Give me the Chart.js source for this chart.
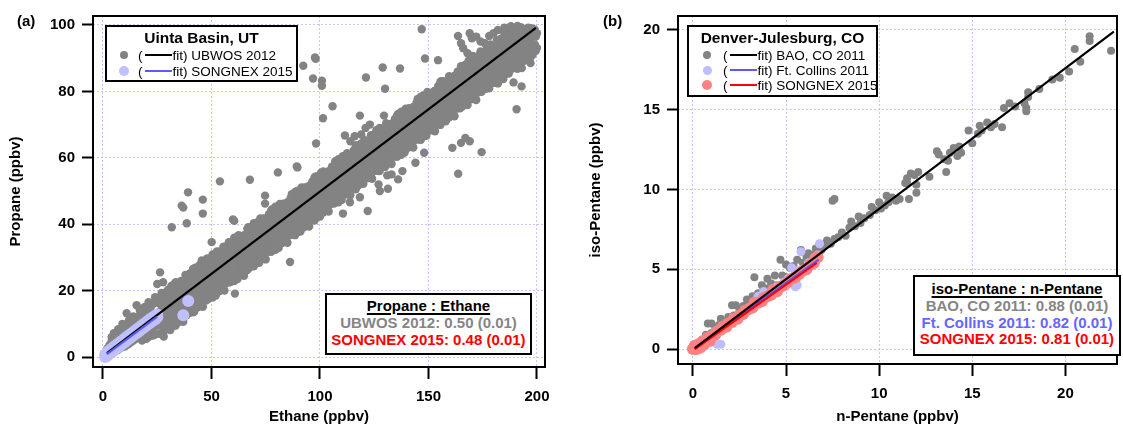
<!DOCTYPE html>
<html>
<head>
<meta charset="utf-8">
<script src="https://cdn.jsdelivr.net/npm/chart.js@4.4.0/dist/chart.umd.min.js"></script>
<style>
  body { margin: 0; background: #fff; font-family: "Liberation Sans", Arial, sans-serif; }
  #wrap { position: relative; width: 1123px; height: 424px; overflow: hidden; }
  canvas { position: absolute; top: 0; }
  .plabel { position: absolute; font-weight: bold; font-size: 15px; line-height: 18px; }
  .box { position: absolute; border: 2px solid #000; background: #fff; box-sizing: border-box; }
  .ttl { position: absolute; text-align: center; font-weight: bold; font-size: 15.5px; line-height: 18px; }
  .row { position: absolute; height: 16px; display: flex; align-items: center; font-size: 13.5px; white-space: nowrap; }
  .dotc { width: 12px; display: flex; justify-content: center; }
  .dot { border-radius: 50%; display: inline-block; }
  .ln { display: inline-block; width: 27px; height: 2px; margin: 0 1px 0 2px; }
  .stats { text-align: center; font-weight: bold; font-size: 15px; line-height: 16.8px; }
  .stats u { text-decoration-thickness: 1.5px; text-underline-offset: 2px; }
</style>
</head>
<body>
<div id="wrap">
  <canvas id="chartA" width="560" height="424" style="left:0"></canvas>
  <canvas id="chartB" width="563" height="424" style="left:560px"></canvas>

  <div class="plabel" style="left:17px;top:12px">(a)</div>
  <div class="plabel" style="left:603px;top:12px">(b)</div>

  <!-- legend (a) -->
  <div class="box" style="left:105px;top:25px;width:193px;height:57px"></div>
  <div class="ttl" style="left:105px;width:193px;top:29px">Uinta Basin, UT</div>
  <div class="row" style="left:118px;top:47px"><span class="dotc"><span class="dot" style="width:8px;height:8px;background:#838383"></span></span><span style="margin-left:8px">(</span><span class="ln" style="background:#000"></span>fit) UBWOS 2012</div>
  <div class="row" style="left:118px;top:63px"><span class="dotc"><span class="dot" style="width:10px;height:10px;background:#c0c0ff"></span></span><span style="margin-left:8px">(</span><span class="ln" style="background:#5a5aff"></span>fit) SONGNEX 2015</div>

  <!-- stats (a) -->
  <div class="box stats" style="left:325px;top:293px;width:207px;height:62px;padding-top:3px">
    <u>Propane : Ethane</u><br>
    <span style="color:#858585">UBWOS 2012: 0.50 (0.01)</span><br>
    <span style="color:#ff0000">SONGNEX 2015: 0.48 (0.01)</span>
  </div>

  <!-- legend (b) -->
  <div class="box" style="left:687px;top:25px;width:191px;height:72px"></div>
  <div class="ttl" style="left:687px;width:191px;top:29px">Denver-Julesburg, CO</div>
  <div class="row" style="left:701px;top:47px"><span class="dotc"><span class="dot" style="width:8px;height:8px;background:#838383"></span></span><span style="margin-left:10px">(</span><span class="ln" style="background:#000"></span>fit) BAO, CO 2011</div>
  <div class="row" style="left:701px;top:62px"><span class="dotc"><span class="dot" style="width:9px;height:9px;background:#bdbdff"></span></span><span style="margin-left:10px">(</span><span class="ln" style="background:#5a5aff"></span>fit) Ft. Collins 2011</div>
  <div class="row" style="left:701px;top:77px"><span class="dotc"><span class="dot" style="width:10px;height:10px;background:#ff8282"></span></span><span style="margin-left:10px">(</span><span class="ln" style="background:#ff0000"></span>fit) SONGNEX 2015</div>

  <!-- stats (b) -->
  <div class="box stats" style="left:913px;top:275px;width:208px;height:81px;padding-top:4px">
    <u>iso-Pentane : n-Pentane</u><br>
    <span style="color:#858585">BAO, CO 2011: 0.88 (0.01)</span><br>
    <span style="color:#6666ff">Ft. Collins 2011: 0.82 (0.01)</span><br>
    <span style="color:#ff0000">SONGNEX 2015: 0.81 (0.01)</span>
  </div>
</div>

<script>
  // ---- panel (a): Propane vs Ethane, Uinta Basin ----
  // rows: [ethane, propane, propane, ...]
  const ubwosRows = [
    [1, 0.2, 1.0], [2, 0.6, 1.8, 2.6], [3, 0.8, 2.2, 3.6], [4, 1.2, 2.5, 4.8, 6.0],
    [5, 1.6, 3.0, 5.2, 7.2], [6, 2.0, 3.6, 5.8], [7, 2.2, 4.0, 6.8, 8.4], [8, 2.8, 4.5, 7.0],
    [9, 3.0, 5.0, 8.2, 10.0], [10, 3.2, 5.5, 7.5, 9.0], [11, 3.6, 6.0, 8.8], [12, 4.0, 6.2, 9.5, 11.0],
    [13, 4.5, 7.0, 10.0], [14, 5.0, 7.4, 10.8, 12.2], [15, 5.4, 8.0, 11.2], [16, 6.0, 8.5, 11.8],
    [17, 6.2, 9.0, 12.5, 14.0], [18, 5.0, 6.8, 9.6, 13.0], [19, 7.0, 10.0, 13.6, 15.0], [20, 5.5, 7.5, 10.5, 14.0],
    [21, 6.0, 8.0, 11.0, 14.5, 16.5], [22, 6.5, 8.5, 11.8, 15.0], [23, 6.5, 9.0, 12.0, 16.0], [24, 6.8, 9.2, 12.6, 16.5, 18.0],
    [25, 9.8, 13.2, 17.0], [26, 7.0, 11.4, 16.1], [27, 11.3, 15.8, 19.3], [28, 6.2, 10.4, 14.3, 18.4],
    [29, 10.6, 15.3, 19.5], [30, 8.4, 12.6, 17.1, 20.3], [31, 8.1, 12.6, 16.8], [32, 14.8, 19.4],
    [33, 11.3, 15.9, 20.2], [34, 13.9, 18.1, 21.1], [35, 12.9, 17.4], [36, 14.0, 18.7, 22.9],
    [37, 10.6, 14.8, 18.7, 22.8], [38, 16.7, 21.2, 24.7], [39, 13.4, 17.8, 22.5], [40, 13.3, 17.5, 22.0, 25.2],
    [41, 15.3, 19.9, 24.2], [42, 13.6, 18.1, 22.3], [43, 18.4, 22.6, 25.6], [44, 20.8, 25.4],
    [45, 18.5, 23.2, 27.4], [46, 15.1, 19.3, 23.2, 27.3], [47, 18.9, 23.4], [48, 21.7, 26.2, 29.7],
    [49, 18.4, 22.8, 27.5], [50, 19.8, 24.4, 28.7], [51, 18.7, 22.9, 27.4, 30.6], [52, 18.5, 23.0, 27.2],
    [53, 23.3, 27.5, 30.5], [54, 22.9, 27.6, 31.8], [55, 26.2, 30.8], [56, 20.0, 24.2, 28.1, 32.2],
    [57, 22.3, 26.7, 31.4], [58, 26.6, 31.1, 34.6], [59, 24.8, 29.3], [60, 24.7, 29.3, 33.6],
    [61, 23.7, 27.9, 32.4, 35.6], [62, 23.5, 28.0, 32.2], [63, 27.4, 32.1, 36.3], [64, 28.8, 33.0, 36.0],
    [65, 24.5, 28.7, 32.6, 36.7], [66, 31.7, 36.3], [67, 31.1, 35.6, 39.1], [68, 27.8, 32.2, 36.9],
    [69, 29.2, 33.8, 38.1], [70, 30.3, 34.8], [71, 28.6, 32.8, 37.3, 40.5], [72, 28.4, 32.9, 37.1],
    [73, 33.2, 37.4, 40.4], [74, 32.8, 37.5, 41.7], [75, 29.4, 33.6, 37.5, 41.6], [76, 31.7, 36.1, 40.8],
    [77, 37.1, 41.7], [78, 36.5, 41.0, 44.5], [79, 34.1, 38.7, 43.0], [80, 33.1, 37.3, 41.8, 45.0],
    [81, 32.9, 37.4, 41.6], [82, 36.2, 40.7], [83, 37.3, 42.0, 46.2], [84, 38.7, 42.9, 45.9],
    [85, 34.4, 38.6, 42.5, 46.6], [86, 36.7, 41.1, 45.8], [87, 41.0, 45.5, 49.0], [88, 38.6, 43.2, 47.5],
    [89, 43.1, 47.7], [90, 38.1, 42.3, 46.8, 50.0], [91, 37.8, 42.3, 46.5], [92, 42.6, 46.8, 49.8],
    [93, 42.2, 46.9, 51.1], [94, 42.1, 46.6], [95, 39.3, 43.5, 47.4, 51.5], [96, 41.6, 46.0, 50.7],
    [97, 43.0, 47.6, 51.9], [98, 46.4, 50.9, 54.4], [99, 42.5, 46.7, 51.2, 54.4], [100, 42.3, 46.8, 51.0],
    [101, 49.0, 53.6], [102, 46.7, 51.4, 55.6], [103, 48.1, 52.3, 55.3], [104, 43.8, 48.0, 51.9, 56.0],
    [105, 46.1, 50.5, 55.2], [106, 48.1, 52.6], [107, 50.9, 55.4, 58.9], [108, 48.5, 53.1, 57.4],
    [109, 47.5, 51.7, 56.2, 59.4], [110, 47.3, 51.8, 56.0], [111, 51.1, 55.8, 60.0], [112, 54.4, 59.0],
    [113, 53.0, 57.2, 60.2], [114, 48.7, 52.9, 56.8, 60.9], [115, 51.0, 55.4, 60.1], [116, 52.4, 57.0, 61.3],
    [117, 55.8, 60.3, 63.8], [118, 54.0, 58.5], [119, 52.4, 56.6, 61.1, 64.3], [120, 52.2, 56.7, 60.9],
    [121, 56.1, 60.8, 65.0], [122, 57.5, 61.7, 64.7], [123, 59.9, 64.5], [124, 53.7, 57.9, 61.8, 65.9],
    [125, 56.0, 60.4, 65.1], [126, 60.3, 64.8, 68.3], [127, 57.9, 62.5, 66.8], [128, 56.9, 61.1, 65.6, 68.8],
    [129, 59.5, 64.0], [130, 57.2, 61.7, 65.9], [131, 61.0, 65.7, 69.9], [132, 62.4, 66.6, 69.6],
    [133, 58.1, 62.3, 66.2, 70.3], [134, 60.4, 64.8, 69.5], [135, 65.8, 70.4], [136, 65.2, 69.7, 73.2],
    [137, 62.8, 67.4, 71.7], [138, 61.8, 66.0, 70.5, 73.7], [139, 61.6, 66.1, 70.3], [140, 64.9, 69.4],
    [141, 66.0, 70.7, 74.9], [142, 67.4, 71.6, 74.6], [143, 63.1, 67.3, 71.2, 75.3], [144, 65.4, 69.8, 74.5],
    [145, 69.7, 74.2, 77.7], [146, 67.3, 71.9, 76.2], [147, 71.8, 76.4], [148, 66.8, 71.0, 75.5, 78.7],
    [149, 66.6, 71.1, 75.3], [150, 70.5, 75.2, 79.4], [151, 71.8, 76.0, 79.0], [152, 70.8, 75.3],
    [153, 68.0, 72.2, 76.1, 80.2], [154, 70.3, 74.7, 79.4], [155, 71.7, 76.3, 80.6], [156, 75.1, 79.6, 83.1],
    [157, 71.2, 75.4, 79.9, 83.1], [158, 71.0, 75.5, 79.7], [159, 77.7, 82.3], [160, 75.4, 80.1, 84.3],
    [161, 76.8, 81.0, 84.0], [162, 72.5, 76.7, 80.6, 84.7], [163, 74.8, 79.2, 83.9], [164, 76.8, 81.3],
    [165, 79.6, 84.1, 87.6], [166, 77.2, 81.8, 86.1], [167, 76.1, 80.3, 84.8, 88.0], [168, 75.9, 80.4, 84.6],
    [169, 79.8, 84.5, 88.7], [170, 83.1, 87.7], [171, 81.7, 85.9, 88.9], [172, 77.4, 81.6, 85.5, 89.6],
    [173, 79.7, 84.1, 88.8], [174, 84.0, 88.5, 92.0], [175, 81.6, 86.2, 90.5], [176, 82.7, 87.2],
    [177, 81.1, 85.3, 89.8, 93.0], [178, 80.9, 85.4, 89.6], [179, 84.8, 89.5, 93.7], [180, 86.2, 90.4, 93.4],
    [181, 88.6, 93.2], [182, 82.4, 86.6, 90.5, 94.6], [183, 84.7, 89.1, 93.8], [184, 86.1, 90.7, 95.0],
    [185, 89.5, 94.0, 97.5], [186, 85.6, 89.8, 94.3, 97.5], [187, 85.4, 89.9, 94.1], [188, 88.7, 93.2],
    [189, 89.8, 94.5, 98.7], [190, 91.2, 95.4, 98.4], [191, 86.8, 91.0, 94.9, 99.0], [192, 89.1, 93.5, 98.2],
    [193, 94.5, 99.1], [194, 93.9, 98.4], [195, 91.5, 96.1], [196, 90.5, 94.7, 99.2],
    [197, 90.3, 94.8, 99.0], [198, 94.2, 98.9], [199, 94.1, 98.6], [200, 93.1, 97.5]
  ];
  // more of the dense band, read between the columns above
  const ubwosRows2 = [
    [26.5, 9.4, 13.9, 18.2], [27.5, 7.1, 9.3, 13.7], [28.5, 8.5, 12.6, 16.6], [29.5, 8.4, 13.1, 17.6],
    [30.5, 10.7, 15.1, 19.0], [31.5, 10.7, 15.0, 19.4, 21.4], [32.5, 9.4, 11.4, 13.2, 17.4, 21.8], [33.5, 9.5, 13.9, 18.3, 22.5],
    [34.5, 10.4, 12.2, 16.3, 19.9], [35.5, 11.1, 15.4, 19.9, 22.1], [36.5, 11.9, 16.6, 21.1], [37.5, 13.0, 17.1, 21.1],
    [38.5, 12.6, 14.8, 19.2], [39.5, 15.9, 20.4, 24.7], [40.5, 15.7, 20.1, 24.0], [41.5, 13.5, 17.9, 22.3, 26.5],
    [42.5, 16.2, 20.5, 24.9, 26.9], [43.5, 14.9, 16.7, 20.8, 24.4], [44.5, 15.3, 17.3, 19.1, 23.3, 27.7], [45.5, 16.3, 21.0, 25.5],
    [46.5, 17.4, 21.5, 25.5], [47.5, 17.0, 21.3, 25.8, 28.0], [48.5, 17.5, 19.7, 24.1], [49.5, 20.8, 25.3, 29.6],
    [50.5, 17.9, 22.3, 26.7, 30.9], [51.5, 21.1, 25.5, 29.4], [52.5, 21.1, 25.4, 29.8, 31.8], [53.5, 19.8, 21.6, 25.7, 29.3],
    [54.5, 20.8, 25.5, 30.0], [55.5, 20.8, 22.8, 24.6, 28.8, 33.2], [56.5, 22.4, 26.5, 30.5], [57.5, 24.8, 29.3, 33.6],
    [58.5, 22.5, 24.7, 29.1], [59.5, 23.0, 27.3, 31.8, 34.0], [60.5, 22.9, 27.3, 31.7, 35.9], [61.5, 26.0, 30.4, 34.3],
    [62.5, 26.0, 30.3, 34.7, 36.7], [63.5, 25.2, 29.9, 34.4], [64.5, 25.2, 27.0, 31.1, 34.7], [65.5, 26.8, 30.9, 34.9],
    [66.5, 26.2, 28.2, 30.0, 34.2, 38.6], [67.5, 26.9, 29.1, 33.5], [68.5, 30.2, 34.7, 39.0], [69.5, 27.3, 31.7, 36.1, 40.3],
    [70.5, 28.4, 32.7, 37.2, 39.4], [71.5, 31.0, 35.4, 39.3], [72.5, 31.0, 35.3, 39.7, 41.7], [73.5, 29.7, 31.5, 35.6, 39.2],
    [74.5, 30.7, 35.4, 39.9], [75.5, 31.8, 35.9, 39.9], [76.5, 34.2, 38.7, 43.0], [77.5, 31.7, 33.7, 35.5, 39.7, 44.1],
    [78.5, 32.4, 34.6, 39.0], [79.5, 32.3, 36.7, 41.1, 45.3], [80.5, 35.4, 39.8, 43.7], [81.5, 35.4, 39.7, 44.1, 46.1],
    [82.5, 34.3, 38.6, 43.1, 45.3], [83.5, 35.1, 39.8, 44.3], [84.5, 35.1, 36.9, 41.0, 44.6], [85.5, 36.7, 40.8, 44.8],
    [86.5, 39.1, 43.6, 47.9], [87.5, 36.8, 39.0, 43.4], [88.5, 36.7, 41.1, 45.5, 49.7], [89.5, 37.6, 39.6, 41.4, 45.6, 50.0],
    [90.5, 40.4, 44.8, 48.7], [91.5, 40.4, 44.7, 49.1, 51.1], [92.5, 39.1, 40.9, 45.0, 48.6], [93.5, 40.1, 44.8, 49.3],
    [94.5, 40.3, 44.6, 49.1, 51.3], [95.5, 41.7, 45.8, 49.8], [96.5, 44.1, 48.6, 52.9], [97.5, 41.1, 45.5, 49.9, 54.1],
    [98.5, 42.2, 44.4, 48.8], [99.5, 44.8, 49.2, 53.1], [100.5, 44.8, 49.1, 53.5, 55.5], [101.5, 43.5, 45.5, 47.3, 51.5, 55.9],
    [102.5, 44.5, 49.2, 53.7], [103.5, 44.5, 46.3, 50.4, 54.0], [104.5, 46.1, 50.2, 54.2], [105.5, 48.5, 53.0, 57.3],
    [106.5, 46.2, 50.5, 55.0, 57.2], [107.5, 46.7, 48.9, 53.3], [108.5, 46.6, 51.0, 55.4, 59.6], [109.5, 49.8, 54.2, 58.1],
    [110.5, 49.8, 54.1, 58.5, 60.5], [111.5, 49.0, 53.7, 58.2], [112.5, 49.0, 51.0, 52.8, 57.0, 61.4], [113.5, 49.5, 51.3, 55.4, 59.0],
    [114.5, 51.0, 55.1, 59.1], [115.5, 53.4, 57.9, 62.2], [116.5, 50.5, 54.9, 59.3, 63.5], [117.5, 51.6, 53.8, 58.2],
    [118.5, 52.1, 56.4, 60.9, 63.1], [119.5, 54.7, 59.1, 63.0], [120.5, 54.7, 59.0, 63.4, 65.4], [121.5, 53.9, 58.6, 63.1],
    [122.5, 53.9, 55.7, 59.8, 63.4], [123.5, 54.4, 56.4, 58.2, 62.4, 66.8], [124.5, 56.0, 60.1, 64.1], [125.5, 58.4, 62.9, 67.2],
    [126.5, 56.1, 58.3, 62.7], [127.5, 56.0, 60.4, 64.8, 69.0], [128.5, 59.2, 63.6, 67.5], [129.5, 57.6, 61.9, 66.4, 68.6],
    [130.5, 59.7, 64.0, 68.4, 70.4], [131.5, 58.9, 63.6, 68.1], [132.5, 58.9, 60.7, 64.8, 68.4], [133.5, 60.5, 64.6, 68.6],
    [134.5, 62.9, 67.4, 71.7], [135.5, 60.3, 62.3, 64.1, 68.3, 72.7], [136.5, 61.0, 63.2, 67.6], [137.5, 60.9, 65.3, 69.7, 73.9],
    [138.5, 64.1, 68.5, 72.4], [139.5, 64.1, 68.4, 72.8, 74.8], [140.5, 63.0, 67.3, 71.8, 74.0], [141.5, 63.8, 68.5, 73.0],
    [142.5, 63.8, 65.6, 69.7, 73.3], [143.5, 65.4, 69.5, 73.5], [144.5, 67.8, 72.3, 76.6], [145.5, 65.5, 67.7, 72.1],
    [146.5, 65.4, 69.8, 74.2, 78.4], [147.5, 66.3, 68.3, 70.1, 74.3, 78.7], [148.5, 69.1, 73.5, 77.4], [149.5, 69.1, 73.4, 77.8, 79.8],
    [150.5, 68.3, 73.0, 77.5], [151.5, 68.3, 70.1, 74.2, 77.8], [152.5, 69.0, 73.3, 77.8, 80.0], [153.5, 70.4, 74.5, 78.5],
    [154.5, 72.8, 77.3, 81.6], [155.5, 69.9, 74.3, 78.7, 82.9], [156.5, 70.9, 73.1, 77.5], [157.5, 73.5, 77.9, 81.8],
    [159.5, 72.2, 74.2, 76.0, 80.2, 84.6], [160.5, 73.2, 77.9, 82.4], [161.5, 73.2, 75.0, 79.1, 82.7], [162.5, 74.8, 78.9, 82.9],
    [163.5, 77.2, 81.7, 86.0], [164.5, 74.9, 79.2, 83.7, 85.9], [165.5, 75.4, 77.6, 82.0], [167.5, 78.5, 82.9, 86.8],
    [168.5, 78.5, 82.8, 87.2, 89.2], [169.5, 77.7, 82.4, 86.9], [170.5, 77.7, 79.7, 81.5, 85.7, 90.1], [171.5, 78.2, 80.0, 84.1, 87.7],
    [172.5, 79.8, 83.9, 87.9], [173.5, 82.2, 86.7, 91.0], [174.5, 79.9, 82.1, 86.5], [176.5, 80.8, 85.1, 89.6, 91.8],
    [177.5, 83.4, 87.8, 91.7], [178.5, 83.4, 87.7, 92.1, 94.1], [179.5, 82.6, 87.3, 91.8], [180.5, 82.6, 84.4, 88.5, 92.1],
    [181.5, 83.1, 85.1, 86.9, 91.1, 95.5], [182.5, 84.7, 88.8, 92.8], [183.5, 87.1, 91.6, 95.9], [185.5, 85.3, 87.5, 91.9],
    [186.5, 87.9, 92.3, 96.2], [187.5, 87.9, 92.2, 96.6, 98.6], [188.5, 86.8, 91.1, 95.6, 97.8], [189.5, 87.6, 92.3, 96.8],
    [190.5, 87.6, 89.4, 93.5, 97.1], [191.5, 89.1, 93.2, 97.2], [192.5, 91.5, 96.0, 99.3], [193.5, 89.0, 91.0, 92.8, 97.0],
    [194.5, 89.7, 91.9, 96.3], [195.5, 89.6, 94.0, 98.4], [196.5, 92.8, 97.2], [197.5, 92.8, 97.1],
    [198.5, 92.0, 96.7], [199.5, 92.2, 96.5]
  ];
  // scattered points off the main band: [ethane, propane]
  const ubwosOutliers = [
    [10.9, 13.2], [15.5, 15.6], [25, 22], [26.3, 25.5], [27.7, 22.5], [31.7, 39.1], [36.3, 45.6], [37, 45],
    [38.6, 40.3], [39.2, 49.6], [46, 47.4], [46, 43.2], [45.5, 29.1], [50.1, 34.6], [53.9, 52.9], [59.9, 41.4],
    [60.5, 41], [60.8, 19.1], [67.7, 53.4], [74.7, 48.6], [74.7, 46.2], [80.6, 55.6], [86.2, 28.6], [89.3, 57.4],
    [89.6, 57.1], [92.3, 87.7], [96.8, 83.9], [97.7, 90.2], [98, 89.8], [98.2, 64.3], [100.9, 83.2], [100.9, 81.7],
    [101.4, 71.9], [105.8, 75.5], [110.6, 43.2], [111.5, 66.7], [113.8, 46.6], [114, 65], [116, 66.5], [117, 63.5],
    [118.4, 48.1], [118.4, 72.7], [119, 67], [121, 69], [121.2, 84.2], [122, 44], [123, 70], [127.6, 50],
    [128.9, 87.2], [129.5, 72.7], [130, 80.8], [131.3, 50.7], [131, 54.7], [127, 52], [133, 55], [136, 53.5],
    [138, 56], [136.9, 86.9], [144, 58.5], [146.9, 98.7], [148, 61.5], [148.4, 89.9], [154.4, 89.4], [161, 63],
    [163.7, 55.2], [165, 64.5], [167, 66], [169, 65], [174.5, 61.7], [163.6, 96.7], [169, 97.5], [170, 96],
    [172, 96.5], [174, 95], [178, 96.7], [180, 97.5], [182, 98.5], [185, 99.2], [188, 99.6], [191, 99.7],
    [166, 93], [168, 91.5], [170.5, 90.7], [165, 94.5], [176, 94.5], [190.6, 74.6], [192.9, 81.5], [189.2, 82.7],
    [184.5, 83.7], [193, 87], [197, 88.5], [198, 91]
  ];
  const songnexARows = [
    [1, 0.0, 0.8], [2, 0.4, 1.4], [3, 1.0, 2.0], [4, 1.5, 2.5], [5, 2.0, 3.0], [6, 2.5, 3.5],
    [7, 3.0, 4.0], [8, 3.5, 4.5], [9, 4.0, 5.0], [10, 4.5, 5.5], [11, 5.0, 6.0], [12, 5.5, 6.5],
    [13, 6.0, 7.0], [14, 6.5, 7.5], [15, 7.0, 8.0], [16, 7.5, 8.5], [17, 8.0, 9.0], [18, 8.5, 9.5],
    [19, 9.0, 10.0], [20, 9.5, 10.5], [21, 10.0, 11.0], [22, 10.5, 11.5], [23, 11.0, 12.0], [24, 11.3, 12.3],
    [25, 12.0, 12.8], [37, 12.6], [39.3, 16.9]
  ];
  const fitUbwos = [[1.8, 1.2], [199.5, 99.1]];
  const fitSongnexA = [[1.8, 0.9], [25, 12.2]];
  const xTicksA = [0, 50, 100, 150, 200];
  const yTicksA = [0, 20, 40, 60, 80, 100];

  // ---- panel (b): iso-Pentane vs n-Pentane, Denver-Julesburg ----
  const baoPoints = [
    [0.1, 0.1], [0.3, 0.3], [0.5, 0.6], [0.7, 0.9], [0.8, 1.6], [1.0, 1.6], [1.0, 1.0], [1.2, 1.3], [1.4, 1.5],
    [1.5, 1.9], [1.7, 1.7], [1.9, 2.0], [2.1, 2.75], [2.3, 2.75], [2.2, 2.1], [2.5, 2.4], [2.7, 2.7], [2.9, 3.1],
    [3.0, 2.8], [3.2, 3.3], [3.3, 4.5], [3.5, 3.5], [3.7, 4.0], [3.8, 3.5], [4.0, 3.8], [4.0, 4.4], [4.2, 4.1],
    [4.4, 4.6], [4.5, 4.0], [4.7, 5.6], [4.8, 4.6], [5.0, 5.3], [5.0, 4.5], [5.2, 5.1], [5.4, 5.2], [5.5, 4.9],
    [5.6, 5.6], [5.8, 6.2], [5.9, 5.4], [6.1, 5.8], [6.2, 6.0], [6.4, 5.9], [6.6, 6.3], [6.8, 6.6], [6.9, 6.2],
    [7.1, 6.5], [7.2, 6.8], [7.4, 6.6], [7.5, 9.3], [7.6, 9.4], [7.6, 6.9], [7.8, 7.0], [8.0, 7.3], [8.2, 7.1],
    [8.4, 7.6], [8.5, 8.0], [8.7, 7.7], [8.9, 8.3], [9.0, 7.9], [9.2, 8.2], [9.5, 8.4], [9.6, 8.9], [9.8, 8.7],
    [10.0, 9.2], [10.1, 8.8], [10.3, 9.0], [10.4, 9.6], [10.5, 9.2], [10.7, 9.5], [10.9, 9.3], [11.1, 9.4],
    [11.4, 10.4], [11.5, 10.7], [11.5, 10.4], [11.6, 9.4], [11.7, 11.0], [11.9, 10.9], [12.0, 10.3], [12.0, 9.8],
    [12.1, 11.1], [12.7, 10.8], [13.1, 12.4], [13.2, 12.2], [13.5, 11.9], [13.6, 11.1], [13.7, 11.8], [13.8, 12.3],
    [14.0, 12.6], [14.2, 12.1], [14.3, 12.7], [14.4, 12.3], [14.8, 13.7], [15.0, 12.9], [15.3, 13.5], [15.4, 14.0],
    [15.5, 13.7], [15.8, 14.2], [16.0, 13.9], [16.2, 14.1], [16.6, 13.9], [16.7, 15.1], [17.0, 15.4], [17.3, 15.2],
    [17.8, 15.4], [17.9, 14.9], [17.9, 15.1], [18.0, 15.8], [18.0, 16.1], [18.6, 16.3], [19.3, 16.9], [19.7, 17.0],
    [20.2, 17.4], [20.5, 18.8], [20.8, 18.0], [21.3, 19.3], [21.3, 19.6], [22.45, 18.7]
  ];
  const ftCollinsPoints = [
    [0.1, 0.0], [0.3, 0.2], [0.5, 0.4], [0.8, 0.56], [0.9, 0.8], [1.3, 0.3], [1.5, 0.3], [1.2, 1.1], [1.5, 1.3],
    [1.8, 1.4], [2.0, 1.7], [2.2, 1.9], [2.5, 2.0], [2.7, 2.3], [3.0, 2.4], [3.2, 2.7], [3.5, 3.3], [3.8, 3.6],
    [3.5, 2.9], [4.0, 3.2], [4.2, 3.5], [4.5, 3.9], [4.6, 3.6], [4.9, 4.2], [5.1, 4.4], [5.3, 5.1], [5.5, 4.9],
    [5.5, 3.9], [5.6, 4.0], [5.8, 6.1], [6.0, 5.0], [6.2, 5.4], [6.4, 5.2], [6.5, 5.7], [6.8, 6.6], [6.7, 5.9]
  ];
  const songnexBPoints = [
    [0.0, 0.0], [0.1, 0.2], [0.2, 0.0], [0.3, 0.3], [0.4, 0.1], [0.5, 0.45], [0.6, 0.3], [0.8, 0.7], [0.9, 0.5],
    [1.0, 0.8], [1.2, 0.9], [1.3, 1.1], [1.5, 1.2], [1.6, 1.4], [1.8, 1.4], [1.9, 1.6], [2.1, 1.7], [2.2, 1.9],
    [2.4, 1.9], [2.5, 2.1], [2.7, 2.2], [2.8, 2.4], [3.0, 2.5], [3.2, 2.6], [3.3, 2.9], [3.5, 2.9], [3.7, 3.0],
    [3.8, 3.2], [4.0, 3.3], [4.2, 3.4], [4.3, 3.7], [4.5, 3.6], [4.7, 3.9], [4.9, 4.0], [5.1, 4.2], [5.3, 4.4],
    [5.5, 4.5], [5.7, 4.7], [5.9, 4.9], [6.1, 5.0], [6.3, 5.3], [6.5, 5.4], [6.6, 5.7], [6.7, 5.75]
  ];
  const fitBao = [[0.1, 0.05], [22.6, 19.9]];
  const fitFtCollins = [[0.1, 0.05], [6.75, 5.6]];
  const fitSongnexB = [[0.1, 0.0], [6.65, 5.4]];
  const xTicksB = [0, 5, 10, 15, 20];
  const yTicksB = [0, 5, 10, 15, 20];

  const FONT = '"Liberation Sans", Arial, sans-serif';
  const GRID = '#c4c4ff';

  function rowsToPts(rows) {
    const out = [];
    rows.forEach(r => { for (let i = 1; i < r.length; i++) out.push({x: r[0], y: r[i]}); });
    return out;
  }
  const pairsToPts = arr => arr.map(p => ({x: p[0], y: p[1]}));

  function pts(data, color, r) {
    return { type: 'scatter', data, backgroundColor: color, borderWidth: 0, pointRadius: r, pointHoverRadius: r };
  }
  function fit(data, color) {
    return { type: 'line', data: pairsToPts(data), borderColor: color, borderWidth: 2.2, pointRadius: 0, fill: false };
  }

  const frame = {
    id: 'frame',
    afterDatasetsDraw(chart) {
      const a = chart.chartArea, ctx = chart.ctx;
      ctx.save();
      ctx.strokeStyle = '#000';
      ctx.lineWidth = 2;
      ctx.strokeRect(a.left, a.top, a.right - a.left, a.bottom - a.top);
      ctx.restore();
    }
  };

  function axis(o) {
    return {
      type: 'linear', position: o.pos, min: o.min, max: o.max,
      afterBuildTicks: s => { s.ticks = o.ticks.map(v => ({value: v})); },
      afterFit: s => { if (o.pos === 'left') s.width = o.size; else s.height = o.size; },
      border: { display: false, dash: [2, 2] },
      grid: { color: GRID, lineWidth: 1, drawTicks: true, tickLength: o.tl,
              tickColor: '#000', tickWidth: 2, tickBorderDash: [] },
      ticks: { color: '#000', padding: o.pad, font: { family: FONT, size: 15, weight: 'bold' } },
      title: { display: true, text: o.title, color: '#000', padding: o.tpad,
               font: { family: FONT, size: 15, weight: 'bold', lineHeight: 1 } }
    };
  }

  function makeChart(id, datasets, xo, yo, padRight) {
    return new Chart(document.getElementById(id), {
      data: { datasets },
      options: {
        responsive: false, animation: false, devicePixelRatio: 1,
        layout: { padding: { left: 0, right: padRight, top: 15, bottom: 0 } },
        plugins: { legend: { display: false }, tooltip: { enabled: false } },
        scales: { x: axis(xo), y: axis(yo) }
      },
      plugins: [frame]
    });
  }

  makeChart('chartA', [
    fit(fitSongnexA, '#5a5aff'),
    fit(fitUbwos, '#000'),
    pts(rowsToPts(songnexARows), '#c0c0ff', 6),
    pts(rowsToPts(ubwosRows).concat(rowsToPts(ubwosRows2), pairsToPts(ubwosOutliers)), '#838383', 4.2)
  ],
  { pos: 'bottom', min: -4.6, max: 203.7, ticks: xTicksA, size: 57, tl: 12, pad: 9, title: 'Ethane (ppbv)', tpad: { top: 0, bottom: 0 } },
  { pos: 'left', min: -3.0, max: 102.7, ticks: yTicksA, size: 93, tl: 11, pad: 7, title: 'Propane (ppbv)', tpad: { top: 8, bottom: 0 } },
  15);

  makeChart('chartB', [
    fit(fitBao, '#000'),
    fit(fitSongnexB, '#ff0000'),
    fit(fitFtCollins, '#5a5aff'),
    pts(pairsToPts(songnexBPoints), '#ff8282', 6),
    pts(pairsToPts(ftCollinsPoints), '#bdbdff', 4.5),
    pts(pairsToPts(baoPoints), '#838383', 4)
  ],
  { pos: 'bottom', min: -0.8, max: 22.77, ticks: xTicksB, size: 60, tl: 12, pad: 9, title: 'n-Pentane (ppbv)', tpad: { top: 0, bottom: 0 } },
  { pos: 'left', min: -0.94, max: 20.875, ticks: yTicksB, size: 118, tl: 11, pad: 7, title: 'iso-Pentane (ppbv)', tpad: { top: 28, bottom: 0 } },
  2);
</script>
</body>
</html>
